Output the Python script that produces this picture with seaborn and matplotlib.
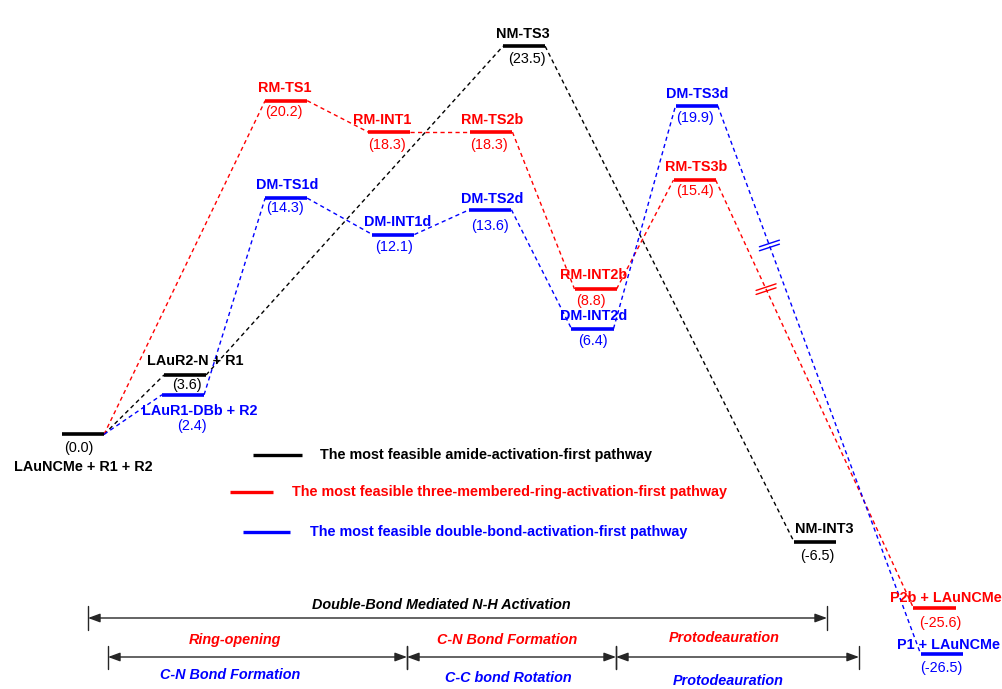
import numpy as np
import pandas as pd
import matplotlib
matplotlib.use("Agg")
import matplotlib.pyplot as plt
import seaborn as sns

# ------------------------------------------------------------------
# Relative free energies (kcal/mol) along the three competing pathways
# ------------------------------------------------------------------
amide_states = ["LAuNCMe + R1 + R2", "LAuR2-N + R1", "NM-TS3", "NM-INT3"]
amide_energy = [0.0, 3.6, 23.5, -6.5]

ring_states = ["LAuNCMe + R1 + R2", "RM-TS1", "RM-INT1", "RM-TS2b",
               "RM-INT2b", "RM-TS3b", "P2b + LAuNCMe"]
ring_energy = [0.0, 20.2, 18.3, 18.3, 8.8, 15.4, -25.6]

dbond_states = ["LAuNCMe + R1 + R2", "LAuR1-DBb + R2", "DM-TS1d", "DM-INT1d",
                "DM-TS2d", "DM-INT2d", "DM-TS3d", "P1 + LAuNCMe"]
dbond_energy = [0.0, 2.4, 14.3, 12.1, 13.6, 6.4, 19.9, -26.5]

pathway_keys = ["amide", "ring", "dbond"]
pathway_names = [
    "The most feasible amide-activation-first pathway",
    "The most feasible three-membered-ring-activation-first pathway",
    "The most feasible double-bond-activation-first pathway",
]

overall_stage = "Double-Bond Mediated N-H Activation"
ring_stages = ["Ring-opening", "C-N Bond Formation", "Protodeauration"]
dbond_stages = ["C-N Bond Formation", "C-C bond Rotation", "Protodeauration"]

# ------------------------------------------------------------------
# Layout
# ------------------------------------------------------------------
W, H = 1002, 689
FS = 10.35
colors = {"amide": "#000000", "ring": "#FF0000", "dbond": "#0000FF"}

# horizontal slot of each level (reaction-coordinate units)
amide_x = [0.0, 1.0, 4.32, 7.17]
ring_x = [0.0, 1.99, 3.0, 4.0, 5.02, 5.99, 8.34]
dbond_x = [0.0, 0.98, 1.99, 3.04, 3.99, 4.99, 6.01, 8.41]
HALF = 0.206  # half width of a level bar

# label offsets in pixels (dx, dy) relative to bar centre: name / value
name_off = {
    "LAuNCMe + R1 + R2": (0, -33), "LAuR2-N + R1": (10, 14), "NM-TS3": (-1, 12),
    "NM-INT3": (9, 13), "RM-TS1": (-1, 13), "RM-INT1": (-7, 12),
    "RM-TS2b": (1, 12), "RM-INT2b": (-2, 14), "RM-TS3b": (2, 13),
    "P2b + LAuNCMe": (11, 10), "LAuR1-DBb + R2": (17, -16), "DM-TS1d": (1, 13),
    "DM-INT1d": (4, 13), "DM-TS2d": (2, 11), "DM-INT2d": (1, 13),
    "DM-TS3d": (1, 12), "P1 + LAuNCMe": (7, 9),
}
value_off = {
    "LAuNCMe + R1 + R2": (-4, -14), "LAuR2-N + R1": (2, -10), "NM-TS3": (3, -13),
    "NM-INT3": (2, -14), "RM-TS1": (-2, -11), "RM-INT1": (-2, -13),
    "RM-TS2b": (-2, -13), "RM-INT2b": (-5, -12), "RM-TS3b": (0, -11),
    "P2b + LAuNCMe": (6, -15), "LAuR1-DBb + R2": (9, -31), "DM-TS1d": (-1, -10),
    "DM-INT1d": (1, -12), "DM-TS2d": (0, -16), "DM-INT2d": (0, -12),
    "DM-TS3d": (-2, -12), "P1 + LAuNCMe": (0, -14),
}

# broken energy axis: identity above -8, compressed gap, stretched product region
E_KNOTS = [-200.0, -26.5, -25.6, -8.0, 200.0]
D_KNOTS = [-549.4, -13.29, -10.51, -8.0, 200.0]


def fwd(v):
    return np.interp(v, E_KNOTS, D_KNOTS)


def inv(d):
    return np.interp(d, D_KNOTS, E_KNOTS)


sns.set_theme(style="white")
plt.rcParams["font.family"] = ["Liberation Sans", "DejaVu Sans"]

fig = plt.figure(figsize=(W / 100, H / 100), dpi=100)
ax = fig.add_axes([0, 0, 1, 1])

paths = {
    "amide": (amide_states, amide_energy, amide_x),
    "ring": (ring_states, ring_energy, ring_x),
    "dbond": (dbond_states, dbond_energy, dbond_x),
}

# tidy tables of level bars and dashed connectors
bar_rows, conn_rows = [], []
for key in pathway_keys:
    states, energy, xs = paths[key]
    for i, (s, e, x) in enumerate(zip(states, energy, xs)):
        # the shared reactant level is drawn once, in black
        if not (i == 0 and key != "amide"):
            for xe in (x - HALF, x + HALF):
                bar_rows.append({"state": s, "pathway": key, "x": xe, "E": e})
        if i + 1 < len(states):
            seg = f"{key}-{i}"
            conn_rows.append({"seg": seg, "pathway": key, "x": x + HALF, "E": e})
            conn_rows.append({"seg": seg, "pathway": key,
                              "x": xs[i + 1] - HALF, "E": energy[i + 1]})
bars = pd.DataFrame(bar_rows)
conns = pd.DataFrame(conn_rows)

sns.lineplot(data=conns, x="x", y="E", hue="pathway", units="seg",
             estimator=None, sort=False, palette=colors, linewidth=1.0,
             linestyle=(0, (3.0, 2.4)), legend=False, ax=ax, zorder=2)
sns.lineplot(data=bars, x="x", y="E", hue="pathway", units="state",
             estimator=None, sort=False, palette=colors, linewidth=2.6,
             solid_capstyle="butt", legend=False, ax=ax, zorder=3)

ax.set_yscale("function", functions=(fwd, inv))
x0 = -83 / 102.1
ax.set_xlim(x0, x0 + W / 102.1)
ax.set_ylim(inv(-(H - 434.4) / 16.52), 434.4 / 16.52)
ax.set_axis_off()

# level names and energies
for key in pathway_keys:
    states, energy, xs = paths[key]
    c = colors[key]
    for i, (s, e, x) in enumerate(zip(states, energy, xs)):
        if i == 0 and key != "amide":
            continue
        ax.annotate(s, (x, e), xytext=name_off[s], textcoords="offset pixels",
                    ha="center", va="center", fontsize=FS,
                    fontweight="bold", color=c, zorder=5)
        ax.annotate(f"({e:.1f})", (x, e), xytext=value_off[s],
                    textcoords="offset pixels", ha="center", va="center",
                    fontsize=FS, color=c, zorder=5)


def frac(px, py):
    return px / W, 1 - py / H


# axis-break marks on the two long descending connectors
def break_mark(key):
    states, energy, xs = paths[key]
    p0 = ax.transData.transform((xs[-2] + HALF, energy[-2]))
    p1 = ax.transData.transform((xs[-1] - HALF, energy[-1]))
    cx, cy = p0 + 0.255 * (p1 - p0)
    for off in (-2.0, 2.0):
        xs_ = [cx - 10, cx + 10]
        ys_ = [cy + off - 3.3, cy + off + 3.3]
        fx = [v / W for v in xs_]
        fy = [v / H for v in ys_]
        ax.plot(fx, fy, color=colors[key], lw=1.0, transform=ax.transAxes,
                zorder=4)


break_mark("ring")
break_mark("dbond")

# pathway key
legend_geom = [((253, 302, 455), 320), ((230, 273, 492), 292), ((243, 290, 532), 310)]
for key, name, ((xa, xb, yy), tx) in zip(pathway_keys, pathway_names, legend_geom):
    ax.plot([xa / W, xb / W], [1 - yy / H] * 2, color=colors[key], lw=2.4,
            transform=ax.transAxes, solid_capstyle="butt")
    ax.text(*frac(tx, yy), name, transform=ax.transAxes, ha="left",
            va="center", fontsize=FS, fontweight="bold", color=colors[key])

# stage brackets
arrow_color = "#262626"
aprops = dict(arrowstyle="<|-|>,head_length=0.6,head_width=0.22",
              color=arrow_color, lw=1.0, shrinkA=0, shrinkB=0, mutation_scale=12)


def bracket(xa, xb, y, tick_up, tick_dn):
    ax.annotate("", xy=frac(xb, y), xytext=frac(xa, y), xycoords="axes fraction",
                textcoords="axes fraction", arrowprops=aprops)
    for xv in (xa, xb):
        ax.plot([xv / W] * 2, [1 - (y - tick_up) / H, 1 - (y + tick_dn) / H],
                color=arrow_color, lw=1.0, transform=ax.transAxes)


bracket(88, 827, 618, 12, 12)
row2 = [108, 407, 616, 859]
for xa, xb in zip(row2[:-1], row2[1:]):
    bracket(xa, xb, 657, 11, 12)

stage_font = dict(fontsize=FS, fontweight="bold", fontstyle="italic",
                  ha="center", va="center", transform=ax.transAxes)
ax.text(*frac(441, 605), overall_stage, color="black", **stage_font)
for lbl, (px, py) in zip(ring_stages, [(235, 640), (507, 640), (724, 638)]):
    ax.text(*frac(px, py), lbl, color=colors["ring"], **stage_font)
for lbl, (px, py) in zip(dbond_stages, [(230, 675), (508, 678), (728, 681)]):
    ax.text(*frac(px, py), lbl, color=colors["dbond"], **stage_font)

fig.savefig("out.png", dpi=100, facecolor="white")
